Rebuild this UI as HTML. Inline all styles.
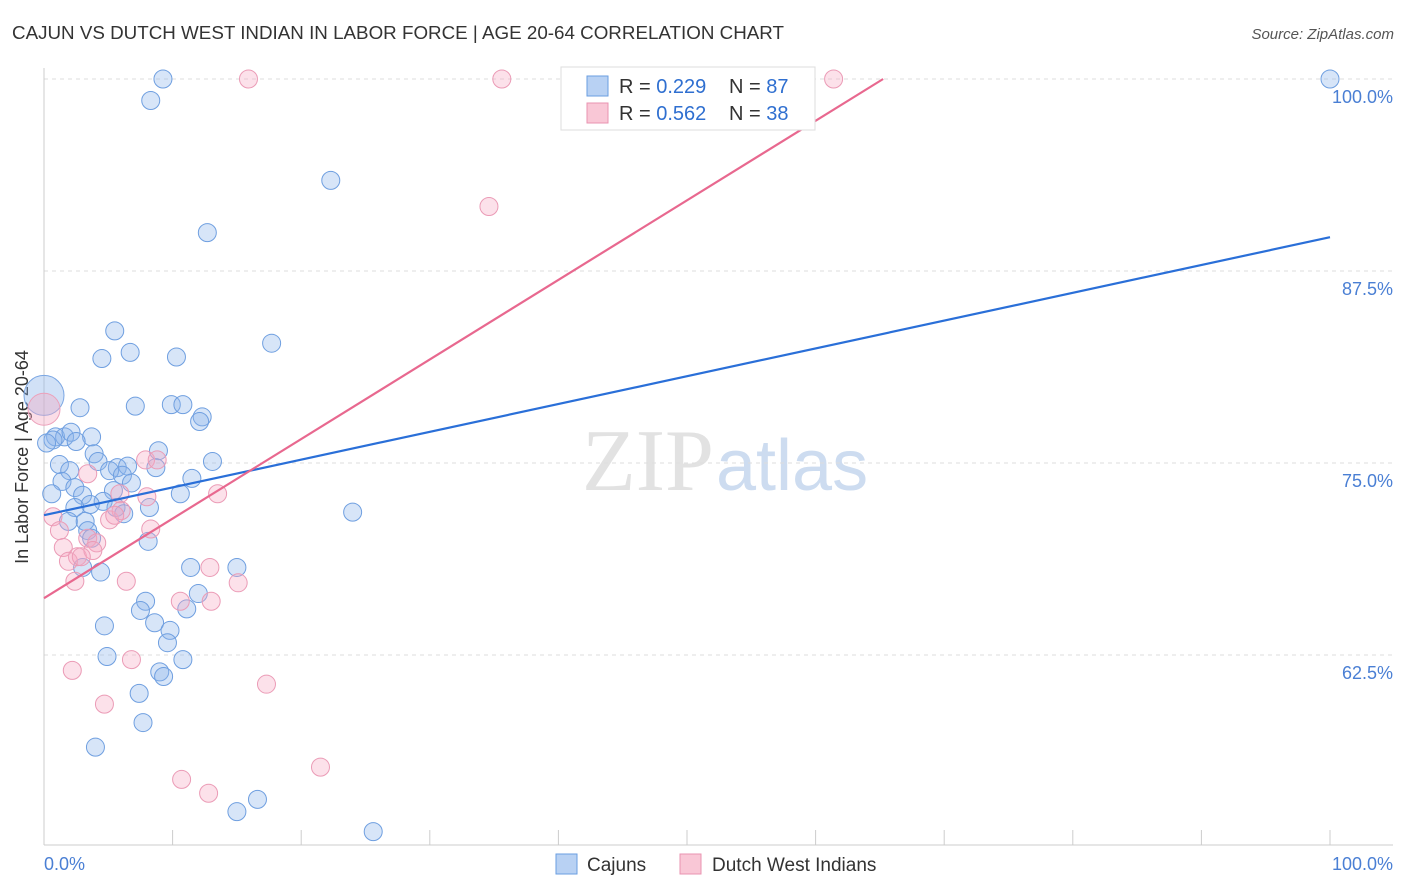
<!DOCTYPE html>
<html><head><meta charset="utf-8"><style>
body{margin:0;background:#fff;font-family:"Liberation Sans",sans-serif;}
#wrap{position:relative;width:1406px;height:892px;overflow:hidden;}
</style></head><body>
<div id="wrap">
<svg id="chart" width="1406" height="892" xmlns="http://www.w3.org/2000/svg">
<text x="12" y="39" font-size="18" fill="#333" textLength="772" lengthAdjust="spacingAndGlyphs">CAJUN VS DUTCH WEST INDIAN IN LABOR FORCE | AGE 20-64 CORRELATION CHART</text>
<text x="1394" y="39" font-size="15" fill="#555" font-style="italic" text-anchor="end">Source: ZipAtlas.com</text>
<text x="714" y="490" font-size="88" fill="#e2e2e2" text-anchor="end" font-family="Liberation Serif,serif">ZIP</text>
<text x="716" y="490" font-size="72" fill="#cddcf0">atlas</text>
<g id="grid"></g>
<line x1="44" y1="68" x2="44" y2="845" stroke="#ccc"/>
<line x1="44" y1="845" x2="1393" y2="845" stroke="#ccc"/>
<text x="28" y="457" font-size="18" fill="#333" text-anchor="middle" transform="rotate(-90 28 457)">In Labor Force | Age 20-64</text>
<text x="44" y="870" font-size="18" fill="#4a7fd4">0.0%</text>
<text x="1393" y="870" font-size="18" fill="#4a7fd4" text-anchor="end">100.0%</text>
<g id="points"></g>
<g id="lines"></g>
<rect x="561" y="67" width="254" height="63" fill="#fff" stroke="#ddd"/>
<rect x="587" y="76" width="21" height="20" fill="#b8d1f3" stroke="#6a9ee0"/>
<rect x="587" y="103" width="21" height="20" fill="#f9c7d6" stroke="#e993b0"/>
<text x="619" y="93" font-size="20" fill="#333">R = <tspan fill="#2f6fd0">0.229</tspan></text>
<text x="729" y="93" font-size="20" fill="#333">N = <tspan fill="#2f6fd0">87</tspan></text>
<text x="619" y="120" font-size="20" fill="#333">R = <tspan fill="#2f6fd0">0.562</tspan></text>
<text x="729" y="120" font-size="20" fill="#333">N = <tspan fill="#2f6fd0">38</tspan></text>
<rect x="556" y="854" width="21" height="20" fill="#b8d1f3" stroke="#6a9ee0"/>
<text x="587" y="871" font-size="19" fill="#333">Cajuns</text>
<rect x="680" y="854" width="21" height="20" fill="#f9c7d6" stroke="#e993b0"/>
<text x="712" y="871" font-size="19" fill="#333">Dutch West Indians</text>
</svg>
</div>
<script>
const yTicks=[100,87.5,75,62.5];
const yTickLabels=["100.0%","87.5%","75.0%","62.5%"];
const xTicks=[0,10,20,30,40,50,60,70,80,90,100];
const cajunX=[9.25,8.3,22.3,12.7,5.5,17.7,4.5,6.7,10.3,2.8,7.1,9.9,10.8,12.3,12.1,0.9,1.6,2.1,3.7,2.5,8.9,3.9,8.7,4.2,13.1,1.2,5.7,6.5,2.0,5.1,6.1,1.4,2.4,6.8,11.5,0.6,3.0,5.4,4.6,10.6,3.6,2.4,5.6,8.2,6.2,24.0,1.9,3.2,3.4,3.7,8.1,3.0,4.4,11.4,15.0,12.0,7.9,7.5,11.1,8.6,9.8,4.7,9.6,4.9,10.8,9.0,9.3,7.4,7.7,4.0,16.6,15.0,25.6,100,0.7,0.2];
const cajunY=[100,98.6,93.4,90.0,83.6,82.8,81.8,82.2,81.9,78.6,78.7,78.8,78.8,78.0,77.7,76.7,76.7,77.0,76.7,76.4,75.8,75.6,74.7,75.1,75.1,74.9,74.7,74.8,74.5,74.5,74.2,73.8,73.4,73.7,74.0,73.0,72.9,73.2,72.5,73.0,72.3,72.1,72.1,72.1,71.7,71.8,71.2,71.2,70.6,70.1,69.9,68.2,67.9,68.2,68.2,66.5,66.0,65.4,65.5,64.6,64.1,64.4,63.3,62.4,62.2,61.4,61.1,60.0,58.1,56.5,53.1,52.3,51.0,100,76.5,76.3];
const dutchX=[15.9,35.6,61.4,34.6,3.4,7.9,8.8,0.7,5.9,8.0,13.5,5.1,6.0,8.3,1.2,3.4,4.1,1.5,2.6,3.8,1.9,2.4,6.4,12.9,15.1,10.6,13.0,6.8,2.2,17.3,4.7,10.7,12.8,21.5,2.9,5.5];
const dutchY=[100,100,100,91.7,74.3,75.2,75.2,71.5,73.0,72.8,73.0,71.3,71.9,70.7,70.6,70.1,69.8,69.5,68.9,69.3,68.6,67.3,67.3,68.2,67.2,66.0,66.0,62.2,61.5,60.6,59.3,54.4,53.5,55.2,68.9,71.6];
const bigCajun=[0,79.4];
const bigDutch=[0,78.5];
const cajunTrend=[71.6,89.7];
const dutchTrend=[66.2,118.0];
const NS="http://www.w3.org/2000/svg";
const X0=44,X1=1330,Y100=79,PX125=192;
function xs(v){return X0+(X1-X0)*v/100;}
function ys(v){return Y100+(100-v)/12.5*PX125;}
function mk(tag,attrs,parent){const e=document.createElementNS(NS,tag);for(const k in attrs)e.setAttribute(k,attrs[k]);parent.appendChild(e);return e;}
const grid=document.getElementById('grid');
yTicks.forEach((t,i)=>{
  const l=mk('line',{x1:44,x2:1393,y1:ys(t),y2:ys(t),stroke:'#ddd','stroke-dasharray':'4,4'},grid);
  
  
  const tx=mk('text',{x:1393,y:ys(t)+24,'font-size':18,fill:'#4a7fd4','text-anchor':'end'},grid);
  tx.textContent=yTickLabels[i];
  
  
});
xTicks.forEach(t=>{
  const l=mk('line',{x1:xs(t),x2:xs(t),y1:830,y2:845,stroke:'#ccc'},grid);
  
  
});
const pts=document.getElementById('points');
function dot(x,y,r,fill,stroke,name){
  const c=mk('circle',{cx:xs(x),cy:ys(y),r:r,fill:fill,stroke:stroke,'stroke-width':1},pts);
  
  
}
dot(bigCajun[0],bigCajun[1],20,'rgba(140,180,235,0.4)','#7aa6e3','cajun-point-large');
dot(bigDutch[0],bigDutch[1],16,'rgba(245,170,195,0.4)','#eca0ba','dutch-point-large');
cajunX.forEach((x,i)=>dot(x,cajunY[i],9,'rgba(140,180,235,0.35)','#6f9fe0','cajun-point'));
dutchX.forEach((x,i)=>dot(x,dutchY[i],9,'rgba(245,170,195,0.35)','#eb9bb6','dutch-point'));
const lines=document.getElementById('lines');
const lb=mk('line',{x1:xs(0),y1:ys(cajunTrend[0]),x2:xs(100),y2:ys(cajunTrend[1]),stroke:'#2a6fd8','stroke-width':2.2},lines);


const slope=(dutchTrend[1]-dutchTrend[0])/100;
const xe=(100-dutchTrend[0])/slope;
const lp=mk('line',{x1:xs(0),y1:ys(dutchTrend[0]),x2:xs(xe),y2:ys(100),stroke:'#e8688f','stroke-width':2.2},lines);


</script>
</body></html>
